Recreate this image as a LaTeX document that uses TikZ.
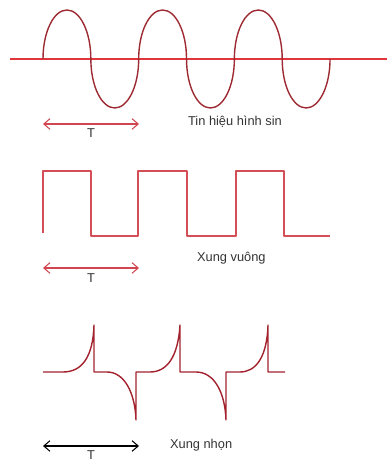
\documentclass[tikz,border=0pt]{standalone}
\usepackage{fontspec}
\setmainfont{Liberation Sans}
\usetikzlibrary{arrows.meta}
\definecolor{sigaxis}{HTML}{E0363C}
\definecolor{sigsine}{HTML}{9E2B33}
\definecolor{sigsquare}{HTML}{D44E57}
\definecolor{sigspike}{HTML}{A3222E}
\definecolor{sigarrow}{HTML}{D0454F}
\definecolor{sigtext}{HTML}{333333}

\begin{document}
\begin{tikzpicture}[x=0.02cm,y=0.02cm,
  wave/.style={line width=0.8pt,line join=round},
  period/.style={{Straight Barb[length=3.5pt,width=6pt]}-{Straight Barb[length=3.5pt,width=6pt]},line width=0.6pt},
  lbl/.style={font=\fontsize{7.3}{8}\selectfont,text=sigtext,inner sep=1pt}]
  \useasboundingbox (0,0) rectangle (387,462);
  \draw[sigaxis,line width=0.8pt] (10,403) -- (387,403);
  \draw[wave,sigsine] (43,403)
    arc[start angle=180,end angle=0,x radius=23.92,y radius=49]
    arc[start angle=180,end angle=360,x radius=23.92,y radius=49]
    arc[start angle=180,end angle=0,x radius=23.92,y radius=49]
    arc[start angle=180,end angle=360,x radius=23.92,y radius=49]
    arc[start angle=180,end angle=0,x radius=23.92,y radius=49]
    arc[start angle=180,end angle=360,x radius=23.92,y radius=49];
  \coordinate (sinA) at (43,338);
  \coordinate (sinB) at (139,338);
  \draw[period,sigarrow] (sinA) -- (sinB);
  \node[lbl] (sinT) at (91,329) {T};
  \node[lbl,anchor=west] (sinlbl) at (186,340) {Tin hiệu hình sin};

  \draw[wave,sigsquare] (43,229) |- (91,291) |- (138,226) |- (187,291)
    |- (236,226) |- (284,291) |- (330,226);
  \coordinate (sqA) at (43,194);
  \coordinate (sqB) at (139,194);
  \draw[period,sigarrow] (sqA) -- (sqB);
  \node[lbl] (sqT) at (91,184) {T};
  \node[lbl,anchor=west] (sqlbl) at (195,204) {Xung vuông};

  \draw[wave,sigspike] (43,90) -- (63,90)
    .. controls (82,90) and (93,105) .. (94,137) -- (94,90) -- (107,90)
    .. controls (124,90) and (135,70) .. (136,42) -- (136,90) -- (150,90)
    .. controls (167,90) and (178,105) .. (180,137) -- (180,90) -- (196,90)
    .. controls (214,90) and (225,70) .. (226,42) -- (226,90) -- (240,90)
    .. controls (256,90) and (267,105) .. (268,137) -- (268,90) -- (285,90);
  \coordinate (spA) at (43,16);
  \coordinate (spB) at (139,16);
  \draw[period,black] (spA) -- (spB);
  \node[lbl] (spT) at (91,7) {T};
  \node[lbl,anchor=west] (splbl) at (168,17) {Xung nhọn};
\end{tikzpicture}
\end{document}
